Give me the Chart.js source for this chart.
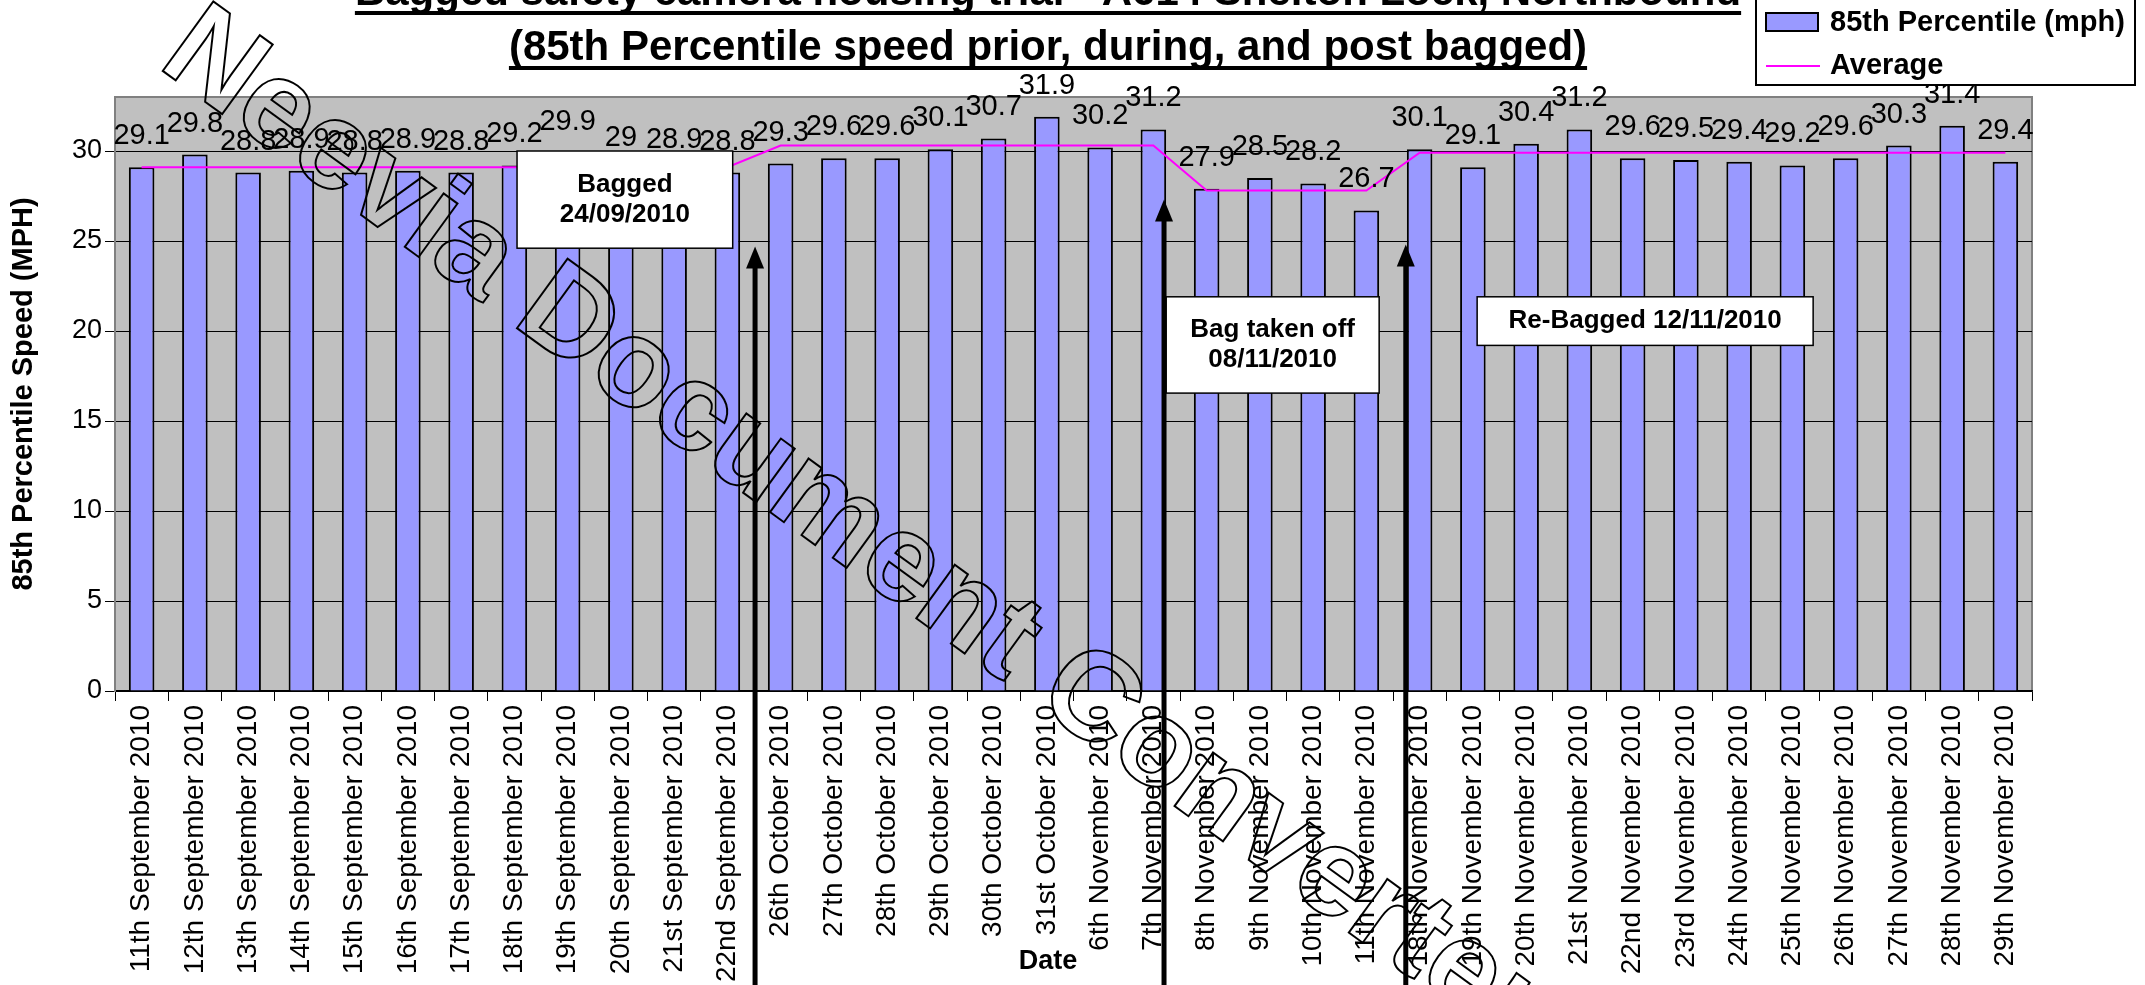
<!DOCTYPE html>
<html>
<head>
<meta charset="utf-8">
<script src="https://cdn.jsdelivr.net/npm/chart.js@4/dist/chart.umd.min.js"></script>
<style>
  body { margin: 0; background: #fff; }
  canvas { display: block; }
</style>
</head>
<body>
<canvas id="myChart" width="2145" height="985"></canvas>
<script>
// datos
const categories = [
    '11th September 2010', '12th September 2010', '13th September 2010', '14th September 2010',
    '15th September 2010', '16th September 2010', '17th September 2010', '18th September 2010',
    '19th September 2010', '20th September 2010', '21st September 2010', '22nd September 2010',
    '26th October 2010', '27th October 2010', '28th October 2010', '29th October 2010',
    '30th October 2010', '31st October 2010',
    '6th November 2010', '7th November 2010', '8th November 2010', '9th November 2010',
    '10th November 2010', '11th November 2010',
    '18th November 2010', '19th November 2010', '20th November 2010', '21st November 2010',
    '22nd November 2010', '23rd November 2010', '24th November 2010', '25th November 2010',
    '26th November 2010', '27th November 2010', '28th November 2010', '29th November 2010'
];
const speed85 = [
    29.1, 29.8, 28.8, 28.9, 28.8, 28.9, 28.8, 29.2, 29.9, 29, 28.9, 28.8,
    29.3, 29.6, 29.6, 30.1, 30.7, 31.9,
    30.2, 31.2, 27.9, 28.5, 28.2, 26.7,
    30.1, 29.1, 30.4, 31.2, 29.6, 29.5, 29.4, 29.2, 29.6, 30.3, 31.4, 29.4
];
const average = [
    29.1, 29.1, 29.1, 29.1, 29.1, 29.1, 29.1, 29.1, 29.1, 29.1, 29.1, 29.1,
    30.3, 30.3, 30.3, 30.3, 30.3, 30.3,
    30.3, 30.3, 27.8, 27.8, 27.8, 27.8,
    29.9, 29.9, 29.9, 29.9, 29.9, 29.9, 29.9, 29.9, 29.9, 29.9, 29.9, 29.9
];
const yTicks = [0, 5, 10, 15, 20, 25, 30];
const titleLines = [
    'Bagged safety camera housing trial - A614 Shelton Lock, Northbound',
    '(85th Percentile speed prior, during, and post bagged)'
];

// notas: x en indice de categoria, y en mph
const notes = [
    { lines: ['Bagged', '24/09/2010'], x0: 7.05, x1: 11.1, y0: 30.0, y1: 24.6 },
    { lines: ['Bag taken off', '08/11/2010'], x0: 19.24, x1: 23.24, y0: 21.9, y1: 16.55 },
    { lines: ['Re-Bagged 12/11/2010'], x0: 25.08, x1: 31.39, y0: 21.9, y1: 19.2 }
];
const arrows = [
    { x: 11.52, tip: 24.7 },
    { x: 19.2, tip: 27.3 },
    { x: 23.74, tip: 24.8 }
];

const FONT = "'Liberation Sans', Arial, sans-serif";

// fondo gris del area de trazado
const plotBg = {
    id: 'plotBg',
    beforeDraw(chart) {
        const a = chart.chartArea, ctx = chart.ctx;
        ctx.save();
        ctx.fillStyle = '#C0C0C0';
        ctx.fillRect(a.left, a.top, a.right - a.left, a.bottom - a.top);
        ctx.strokeStyle = '#808080';
        ctx.lineWidth = 2;
        ctx.strokeRect(a.left, a.top, a.right - a.left, a.bottom - a.top);
        ctx.restore();
    }
};

// etiquetas de valores encima de las barras
const barLabels = {
    id: 'barLabels',
    afterDatasetsDraw(chart) {
        const ctx = chart.ctx;
        const meta = chart.getDatasetMeta(0);
        ctx.save();
        ctx.font = '29px ' + FONT;
        ctx.fillStyle = '#000';
        ctx.textAlign = 'center';
        ctx.textBaseline = 'alphabetic';
        meta.data.forEach((bar, i) => {
            ctx.fillText(String(speed85[i]), bar.x, bar.y - 23);
        });
        ctx.restore();
    }
};

// cuadros de texto y flechas
const notesPlugin = {
    id: 'notesPlugin',
    afterDraw(chart) {
        const ctx = chart.ctx;
        const xs = chart.scales.x, ys = chart.scales.y;
        ctx.save();
        notes.forEach(n => {
            const l = xs.getPixelForValue(n.x0), r = xs.getPixelForValue(n.x1);
            const t = ys.getPixelForValue(n.y0), b = ys.getPixelForValue(n.y1);
            ctx.fillStyle = '#fff';
            ctx.fillRect(l, t, r - l, b - t);
            ctx.strokeStyle = '#000';
            ctx.lineWidth = 1.5;
            ctx.strokeRect(l, t, r - l, b - t);
            ctx.fillStyle = '#000';
            ctx.font = 'bold 26px ' + FONT;
            ctx.textAlign = 'center';
            ctx.textBaseline = 'middle';
            const cx = (l + r) / 2, cy = (t + b) / 2, lh = 30;
            n.lines.forEach((s, k) => {
                ctx.fillText(s, cx, cy + (k - (n.lines.length - 1) / 2) * lh);
            });
        });
        arrows.forEach(a => {
            const x = xs.getPixelForValue(a.x), tip = ys.getPixelForValue(a.tip);
            ctx.strokeStyle = '#000';
            ctx.lineWidth = 5;
            ctx.beginPath();
            ctx.moveTo(x, chart.height);
            ctx.lineTo(x, tip + 16);
            ctx.stroke();
            ctx.fillStyle = '#000';
            ctx.beginPath();
            ctx.moveTo(x, tip);
            ctx.lineTo(x - 9, tip + 22);
            ctx.lineTo(x + 9, tip + 22);
            ctx.closePath();
            ctx.fill();
        });
        ctx.restore();
    }
};

// titulo subrayado, titulo del eje x y leyenda con marco
const titleLegend = {
    id: 'titleLegend',
    afterDraw(chart) {
        const ctx = chart.ctx;
        ctx.save();
        ctx.fillStyle = '#000';
        ctx.font = 'bold 42px ' + FONT;
        ctx.textAlign = 'center';
        ctx.textBaseline = 'alphabetic';
        const cx = 1048;
        [5, 60].forEach((y, k) => {
            ctx.fillText(titleLines[k], cx, y);
            const w = ctx.measureText(titleLines[k]).width;
            ctx.fillRect(cx - w / 2, y + 6, w, 4);
        });

        ctx.font = 'bold 27px ' + FONT;
        ctx.textBaseline = 'middle';
        ctx.fillText('Date', cx, 962);

        // leyenda
        ctx.fillStyle = '#fff';
        ctx.fillRect(1756, -2, 379, 87);
        ctx.strokeStyle = '#000';
        ctx.lineWidth = 2;
        ctx.strokeRect(1756, -2, 379, 87);
        ctx.fillStyle = '#9999FF';
        ctx.fillRect(1766, 13, 52, 18);
        ctx.strokeRect(1766, 13, 52, 18);
        ctx.strokeStyle = '#FF00FF';
        ctx.beginPath();
        ctx.moveTo(1766, 66);
        ctx.lineTo(1820, 66);
        ctx.stroke();
        ctx.fillStyle = '#000';
        ctx.font = 'bold 29px ' + FONT;
        ctx.textAlign = 'left';
        ctx.textBaseline = 'middle';
        ctx.fillText(chart.data.datasets[0].label, 1830, 23);
        ctx.fillText(chart.data.datasets[1].label, 1830, 66);

        // marca de agua del conversor
        ctx.translate(156, 66);
        ctx.rotate(36 * Math.PI / 180);
        ctx.font = 'bold 125px ' + FONT;
        ctx.strokeStyle = '#000';
        ctx.lineWidth = 2;
        ctx.textBaseline = 'alphabetic';
        ctx.strokeText('Neevia Document Converter', 0, 0);
        ctx.restore();
    }
};

const ctx = document.getElementById('myChart').getContext('2d');
const myChart = new Chart(ctx, {
    data: {
        labels: categories,
        datasets: [{
            type: 'bar',
            label: '85th Percentile (mph)',
            data: speed85,
            backgroundColor: '#9999FF',
            borderColor: '#000',
            borderWidth: 2,
            barPercentage: 0.48,
            categoryPercentage: 1,
            order: 1
        }, {
            type: 'line',
            label: 'Average',
            data: average,
            borderColor: '#FF00FF',
            borderWidth: 2,
            pointRadius: 0,
            tension: 0,
            order: 0
        }]
    },
    options: {
        responsive: false,
        devicePixelRatio: 1,
        animation: false,
        layout: { padding: { top: 97, right: 113, left: 0, bottom: 0 } },
        plugins: {
            legend: { display: false },
            title: { display: false },
            tooltip: { enabled: false }
        },
        scales: {
            x: {
                offset: true,
                afterFit: s => { s.height = 294; },
                grid: { offset: true, drawOnChartArea: false, tickLength: 10, color: '#000' },
                border: { color: '#000', width: 1.5 },
                ticks: {
                    autoSkip: false, minRotation: 90, maxRotation: 90, padding: 4,
                    color: '#000', font: { family: FONT, size: 28 }
                }
            },
            y: {
                min: 0,
                max: 33,
                afterFit: s => { s.width = 115; },
                afterBuildTicks: s => { s.ticks = yTicks.map(v => ({ value: v })); },
                grid: { color: '#000', lineWidth: 1, tickLength: 10 },
                border: { color: '#808080', width: 2 },
                ticks: { color: '#000', padding: 3, font: { family: FONT, size: 27 } },
                title: {
                    display: true, text: '85th Percentile Speed (MPH)', color: '#000',
                    padding: { top: 7, bottom: 0 },
                    font: { family: FONT, size: 29, weight: 'bold' }
                }
            }
        }
    },
    plugins: [plotBg, barLabels, notesPlugin, titleLegend]
});
</script>
</body>
</html>
